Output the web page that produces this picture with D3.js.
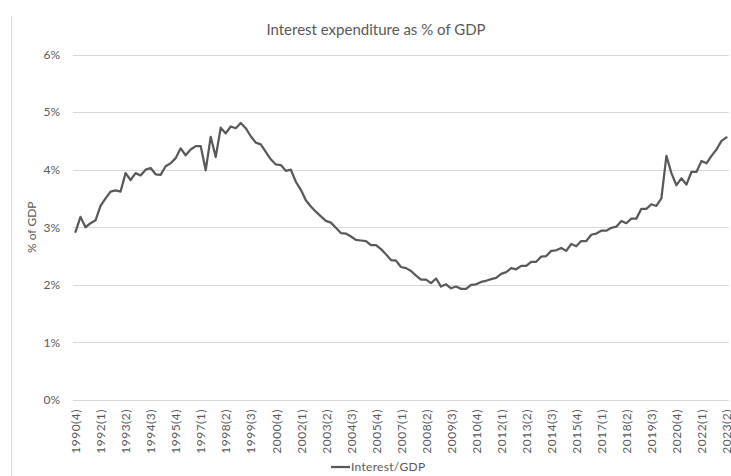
<!DOCTYPE html>
<html>
<head>
<meta charset="utf-8">
<script src="https://cdn.jsdelivr.net/npm/d3@7"></script>
<style>
  html, body { margin: 0; padding: 0; background: #fff; }
  svg { display: block; font-family: Lato, "Open Sans", sans-serif; }
</style>
</head>
<body>
<svg id="chart" width="731" height="476"></svg>
<script>
// ---- Data ----
const categories = [
  "1990(4)",
  "1991(1)","1991(2)","1991(3)","1991(4)",
  "1992(1)","1992(2)","1992(3)","1992(4)",
  "1993(1)","1993(2)","1993(3)","1993(4)",
  "1994(1)","1994(2)","1994(3)","1994(4)",
  "1995(1)","1995(2)","1995(3)","1995(4)",
  "1996(1)","1996(2)","1996(3)","1996(4)",
  "1997(1)","1997(2)","1997(3)","1997(4)",
  "1998(1)","1998(2)","1998(3)","1998(4)",
  "1999(1)","1999(2)","1999(3)","1999(4)",
  "2000(1)","2000(2)","2000(3)","2000(4)",
  "2001(1)","2001(2)","2001(3)","2001(4)",
  "2002(1)","2002(2)","2002(3)","2002(4)",
  "2003(1)","2003(2)","2003(3)","2003(4)",
  "2004(1)","2004(2)","2004(3)","2004(4)",
  "2005(1)","2005(2)","2005(3)","2005(4)",
  "2006(1)","2006(2)","2006(3)","2006(4)",
  "2007(1)","2007(2)","2007(3)","2007(4)",
  "2008(1)","2008(2)","2008(3)","2008(4)",
  "2009(1)","2009(2)","2009(3)","2009(4)",
  "2010(1)","2010(2)","2010(3)","2010(4)",
  "2011(1)","2011(2)","2011(3)","2011(4)",
  "2012(1)","2012(2)","2012(3)","2012(4)",
  "2013(1)","2013(2)","2013(3)","2013(4)",
  "2014(1)","2014(2)","2014(3)","2014(4)",
  "2015(1)","2015(2)","2015(3)","2015(4)",
  "2016(1)","2016(2)","2016(3)","2016(4)",
  "2017(1)","2017(2)","2017(3)","2017(4)",
  "2018(1)","2018(2)","2018(3)","2018(4)",
  "2019(1)","2019(2)","2019(3)","2019(4)",
  "2020(1)","2020(2)","2020(3)","2020(4)",
  "2021(1)","2021(2)","2021(3)","2021(4)",
  "2022(1)","2022(2)","2022(3)","2022(4)",
  "2023(1)","2023(2)"
];

// Interest / GDP in percent
const interestGDP = [
  2.92,
  3.18, 3.00, 3.07, 3.12,
  3.37, 3.50, 3.62, 3.64,
  3.62, 3.94, 3.82, 3.94,
  3.90, 4.00, 4.03, 3.92,
  3.91, 4.06, 4.11, 4.20,
  4.37, 4.25, 4.35, 4.41,
  4.41, 3.99, 4.57, 4.22,
  4.73, 4.63, 4.75, 4.72,
  4.81, 4.72, 4.58, 4.47,
  4.44, 4.31, 4.18, 4.09,
  4.08, 3.98, 4.00, 3.79,
  3.65, 3.47, 3.36, 3.27,
  3.19, 3.11, 3.08, 2.99,
  2.90, 2.89, 2.84, 2.78,
  2.77, 2.76, 2.69, 2.69,
  2.62, 2.53, 2.43, 2.42,
  2.31, 2.29, 2.24, 2.16,
  2.09, 2.09, 2.03, 2.11,
  1.97, 2.01, 1.94, 1.97,
  1.93, 1.93, 2.00, 2.01,
  2.05, 2.07, 2.10, 2.12,
  2.19, 2.22, 2.29, 2.27,
  2.33, 2.33, 2.40, 2.40,
  2.49, 2.50, 2.59, 2.60,
  2.64, 2.59, 2.71, 2.67,
  2.76, 2.76, 2.87, 2.89,
  2.94, 2.94, 2.99, 3.01,
  3.11, 3.07, 3.15, 3.15,
  3.32, 3.32, 3.40, 3.37,
  3.50, 4.24, 3.94, 3.73,
  3.85, 3.74, 3.96, 3.96,
  4.15, 4.11, 4.24, 4.35,
  4.50, 4.56
];

const xTickLabels = [
  "1990(4)","1992(1)","1993(2)","1994(3)","1995(4)","1997(1)","1998(2)",
  "1999(3)","2000(4)","2002(1)","2003(2)","2004(3)","2005(4)","2007(1)",
  "2008(2)","2009(3)","2010(4)","2012(1)","2013(2)","2014(3)","2015(4)",
  "2017(1)","2018(2)","2019(3)","2020(4)","2022(1)","2023(2)"
];
const yTicks = [0, 1, 2, 3, 4, 5, 6];

const title = "Interest expenditure as % of GDP";
const yTitle = "% of GDP";
const seriesName = "Interest/GDP";

// ---- Drawing ----
const svg = d3.select("#chart");
const textColor = "#595959";
const gridColor = "#d9d9d9";

const plot = { left: 73, right: 729, top: 54.5, bottom: 400 };

const x = d3.scalePoint()
  .domain(categories)
  .range([plot.left, plot.right])
  .padding(0.5);

const y = d3.scaleLinear()
  .domain([0, 6])
  .range([plot.bottom, plot.top]);

// left border of chart area
svg.append("line")
  .attr("x1", 11.5).attr("x2", 11.5)
  .attr("y1", 16).attr("y2", 476)
  .attr("stroke", gridColor).attr("stroke-width", 1);

// gridlines
svg.append("g").selectAll("line")
  .data(yTicks)
  .join("line")
  .attr("x1", plot.left).attr("x2", plot.right)
  .attr("y1", d => Math.round(y(d)) + 0.5)
  .attr("y2", d => Math.round(y(d)) + 0.5)
  .attr("stroke", gridColor).attr("stroke-width", 1);

// y axis labels
const yAxis = d3.axisLeft(y).tickValues(yTicks).tickFormat(d => d + "%").tickSize(0).tickPadding(0);
const yg = svg.append("g").attr("transform", `translate(${plot.left - 13},0)`).call(yAxis);
yg.select(".domain").remove();
yg.selectAll("text")
  .attr("fill", textColor)
  .style("font-size", "12px")
  .style("font-family", "Lato, sans-serif");

// x axis labels
const xAxis = d3.axisBottom(x).tickValues(xTickLabels).tickSize(0).tickPadding(0);
const xg = svg.append("g").attr("transform", `translate(0,${plot.bottom})`).call(xAxis);
xg.select(".domain").remove();
xg.selectAll("text")
  .attr("fill", textColor)
  .style("font-size", "12px")
  .style("font-family", "Lato, sans-serif")
  .style("letter-spacing", "0.5px")
  .attr("text-anchor", "end")
  .attr("transform", "rotate(-90)")
  .attr("x", -9)
  .attr("y", 0)
  .attr("dy", "0.35em");

// line
const line = d3.line()
  .x((d, i) => x(categories[i]))
  .y(d => y(d));

svg.append("path")
  .datum(interestGDP)
  .attr("d", line)
  .attr("fill", "none")
  .attr("stroke", "#595959")
  .attr("stroke-width", 2.25)
  .attr("stroke-linejoin", "round")
  .attr("stroke-linecap", "round");

// title
svg.append("text")
  .attr("x", 376).attr("y", 35)
  .attr("text-anchor", "middle")
  .attr("fill", textColor)
  .style("font-size", "15px")
  .text(title);

// y title
svg.append("text")
  .attr("transform", `translate(36,${(plot.top + plot.bottom) / 2}) rotate(-90)`)
  .attr("text-anchor", "middle")
  .attr("fill", textColor)
  .style("font-size", "12px")
  .text(yTitle);

// legend
svg.append("line")
  .attr("x1", 331).attr("x2", 350)
  .attr("y1", 467).attr("y2", 467)
  .attr("stroke", "#595959").attr("stroke-width", 2.25);
svg.append("text")
  .attr("x", 351).attr("y", 471)
  .attr("fill", textColor)
  .style("font-size", "12px")
  .style("letter-spacing", "0.3px")
  .text(seriesName);
</script>
</body>
</html>
